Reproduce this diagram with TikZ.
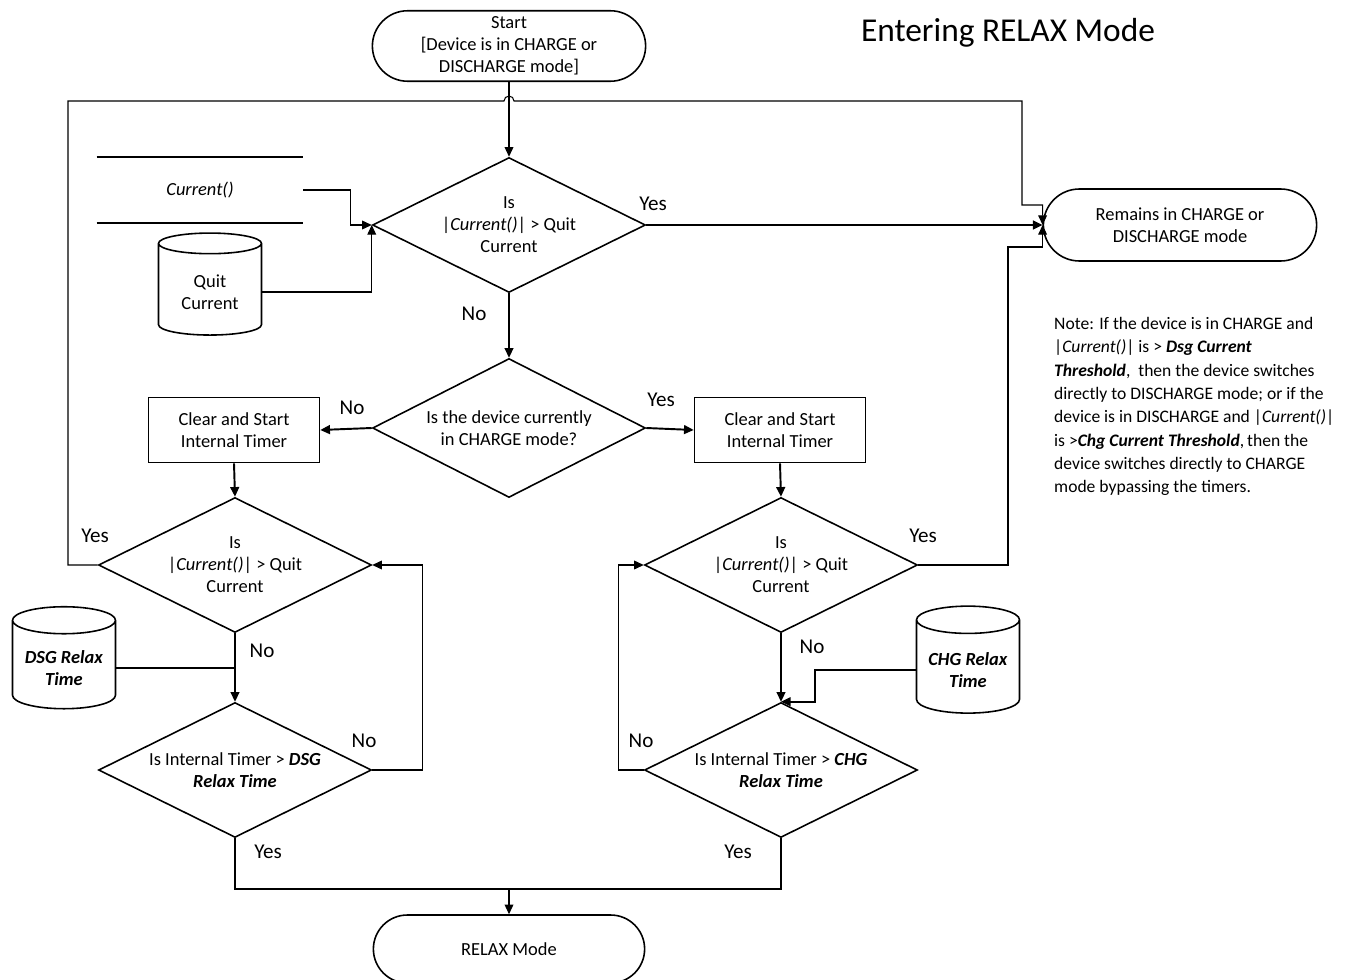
\documentclass[tikz,border=0pt]{standalone}
\usepackage{fontspec}
\setmainfont{Carlito}
\usetikzlibrary{shapes.geometric,shapes.misc,arrows.meta,positioning,calc}
\tikzset{>={Triangle[length=5.5pt,width=5pt]}}
\tikzset{
	term/.style={draw,rounded rectangle,minimum width=5.7cm,minimum height=1.36cm,line width=0.9pt,align=center,font=\fontsize{10.5}{12.6}\selectfont},
	dec/.style={draw,diamond,aspect=2,minimum width=5.46cm,minimum height=2.7cm,inner sep=0,line width=0.9pt,align=center,font=\fontsize{10.5}{12.6}\selectfont},
	proc/.style={draw,rectangle,minimum width=3.42cm,minimum height=1.3cm,line width=0.9pt,align=center,font=\fontsize{10.5}{12.6}\selectfont},
	store/.style={draw,cylinder,shape border rotate=90,aspect=0.3,minimum width=2.06cm,minimum height=2.04cm,line width=0.9pt,align=center,font=\fontsize{10.5}{12.6}\selectfont},
	stream/.style={minimum width=4.12cm,minimum height=1.3cm,font=\fontsize{10.5}{12.6}\selectfont\itshape},
	lbl/.style={font=\fontsize{12}{14}\selectfont},
	flow/.style={->,line width=1.1pt},
	link/.style={line width=0.6pt},
}
\newcommand{\cur}{\textit{Current()}}
\newcommand{\bi}[1]{\textbf{\textit{#1}}}

\begin{document}
\begin{tikzpicture}[x=0.02cm,y=-0.02cm]
	\useasboundingbox (0,0) rectangle (1346,980);

	\node[term] (start) at (509,46) {Start\\{[}Device is in CHARGE or\\DISCHARGE mode]};
	\node[font=\fontsize{19}{22}\selectfont] (title) at (1008,33) {Entering RELAX Mode};
	\node[dec] (d0) at (509,225) {Is\\|\cur| > Quit\\Current};
	\node[term,minimum height=1.44cm] (remain) at (1180,225) {Remains in CHARGE or\\DISCHARGE mode};
	\node[stream] (cur) at (200,190) {Current()};
	\node[store] (quit) at (210,292) {Quit\\Current};

	\node[dec,minimum height=2.78cm] (d1) at (509,428) {Is the device currently\\in CHARGE mode?};
	\node[proc] (pl) at (234,430) {Clear and Start\\Internal Timer};
	\node[proc] (pr) at (780,430) {Clear and Start\\Internal Timer};

	\node[dec] (dl1) at (235,565) {Is\\|\cur| > Quit\\Current};
	\node[dec] (dl2) at (235,770) {Is Internal Timer > \bi{DSG}\\\bi{Relax Time}};
	\node[store] (dsg) at (64,668) {\bi{DSG Relax}\\\bi{Time}};

	\node[dec] (dr1) at (781,565) {Is\\|\cur| > Quit\\Current};
	\node[dec] (dr2) at (781,770) {Is Internal Timer > \bi{CHG}\\\bi{Relax Time}};
	\node[store,minimum height=2.14cm] (chg) at (968,670) {\bi{CHG Relax}\\\bi{Time}};

	\node[term,minimum width=5.66cm] (relax) at (509,949) {RELAX Mode};
	\coordinate (join) at (509,889);

	\node[anchor=north west,align=left,font=\fontsize{10}{13.3}\selectfont] (note) at (1048,311) {Note: If the device is in CHARGE and\\|\cur| is > \bi{Dsg Current}\\\bi{Threshold},~ then the device switches\\directly to DISCHARGE mode; or if the\\device is in DISCHARGE and |\cur|\\is >\bi{Chg Current Threshold},\,then the\\device switches directly to CHARGE\\mode bypassing the timers.};

	% labels
	\node[lbl] (y0) at (653,204) {Yes};
	\node[lbl] (n0) at (474,314) {No};
	\node[lbl] (n1) at (352,408) {No};
	\node[lbl] (y1) at (661,400) {Yes};
	\node[lbl] (yl1) at (95,536) {Yes};
	\node[lbl] (nl1) at (262,651) {No};
	\node[lbl] (nl2) at (364,741) {No};
	\node[lbl] (yl2) at (268,852) {Yes};
	\node[lbl] (yr1) at (923,536) {Yes};
	\node[lbl] (nr1) at (812,647) {No};
	\node[lbl] (nr2) at (641,741) {No};
	\node[lbl] (yr2) at (738,852) {Yes};

	% connectors
	\draw[line width=0.9pt] (cur.north west) -- (cur.north east);
	\draw[line width=0.9pt] (cur.south west) -- (cur.south east);
	\draw[link,->] (start.south) -- (d0.north);
	\draw[link,->] (cur.east) -- ++(47,0) |- (d0.west);
	\draw[link,->] (quit.east) -| (d0.west);
	\draw[flow] (d0.east) -- (remain.west);
	\draw[flow] (d0.south) -- (d1.north);
	\draw[flow] (d1.west) -- (pl.east);
	\draw[flow] (d1.east) -- (pr.west);
	\draw[flow] (pl.south) -- (dl1.north);
	\draw[flow] (dl1.south) -- (dl2.north);
	\draw[link] (dsg.east) -- (dsg.east -| dl1.south);
	\draw[link,->] (dl2.east) -- ++(50,0) |- (dl1.east);
	\draw[flow] (pr.south) -- (dr1.north);
	\draw[flow] (dr1.south) -- (dr2.north);
	\draw[flow] (chg.west) -| ($(dr2.north)+(34,0)$) -- (dr2.north);
	\draw[link,->] (dr2.west) -- ++(-25,0) |- (dr1.west);
	\draw[link,->] (dl1.west) -| (68,101) -- (504,101) arc[start angle=180,end angle=360,radius=5] -| (1022,205) -| (remain.west);
	\draw[link,->] (dr1.east) -| (1008,247) -| (remain.west);
	\draw[link] (dl2.south) |- (join) -| (dr2.south);
	\draw[link,->] (join) -- (relax.north);

\end{tikzpicture}
\end{document}
